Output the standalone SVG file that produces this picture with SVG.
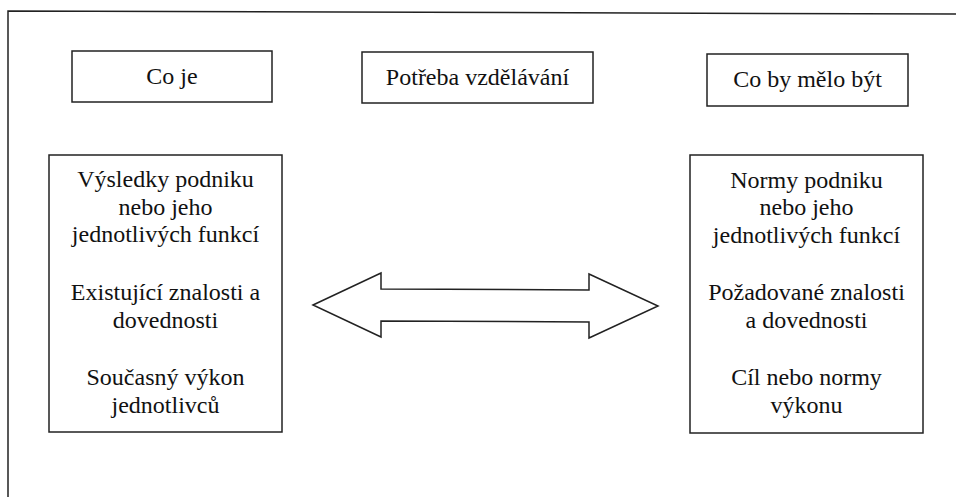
<svg xmlns="http://www.w3.org/2000/svg" width="956" height="497" viewBox="0 0 956 497">
<style>
.box{fill:#fff;stroke:#222;stroke-width:1.5}
.frame{fill:none;stroke:#222;stroke-width:1.5}
.t{font-family:"Liberation Serif", "Times New Roman", "DejaVu Serif", serif;font-size:24px;fill:#111;text-anchor:middle}
</style>
<rect width="956" height="497" fill="#fff"/>
<g id="frame">
<path class="frame" d="M8,497 L8,11 L956,14"/>
</g>
<g id="node-co-je">
<rect class="box" x="72" y="51" width="200" height="51"/>
<text class="t" x="172" y="84">Co je</text>
</g>
<g id="node-potreba">
<rect class="box" x="362" y="52" width="231" height="51"/>
<text class="t" x="477.5" y="85">Potřeba vzdělávání</text>
</g>
<g id="node-co-by">
<rect class="box" x="707" y="54" width="201" height="52"/>
<text class="t" x="807.5" y="87">Co by mělo být</text>
</g>
<g id="node-left">
<rect class="box" x="49" y="155" width="233" height="277"/>
<text class="t" x="165.5" y="187">Výsledky podniku</text>
<text class="t" x="165.5" y="215">nebo jeho</text>
<text class="t" x="165.5" y="242">jednotlivých funkcí</text>
<text class="t" x="165.5" y="300">Existující znalosti a</text>
<text class="t" x="165.5" y="328">dovednosti</text>
<text class="t" x="165.5" y="385">Současný výkon</text>
<text class="t" x="165.5" y="413">jednotlivců</text>
</g>
<g id="node-right">
<rect class="box" x="690" y="155" width="233" height="278"/>
<text class="t" x="806.5" y="188">Normy podniku</text>
<text class="t" x="806.5" y="215">nebo jeho</text>
<text class="t" x="806.5" y="243">jednotlivých funkcí</text>
<text class="t" x="806.5" y="300">Požadované znalosti</text>
<text class="t" x="806.5" y="328">a dovednosti</text>
<text class="t" x="806.5" y="385">Cíl nebo normy</text>
<text class="t" x="806.5" y="413">výkonu</text>
</g>
<g id="connectors">
<polygon class="box" points="313,305 381,273 381,289 589,290 589,274 658,306 589,338 589,322 381,321 381,337"/>
</g>
</svg>
